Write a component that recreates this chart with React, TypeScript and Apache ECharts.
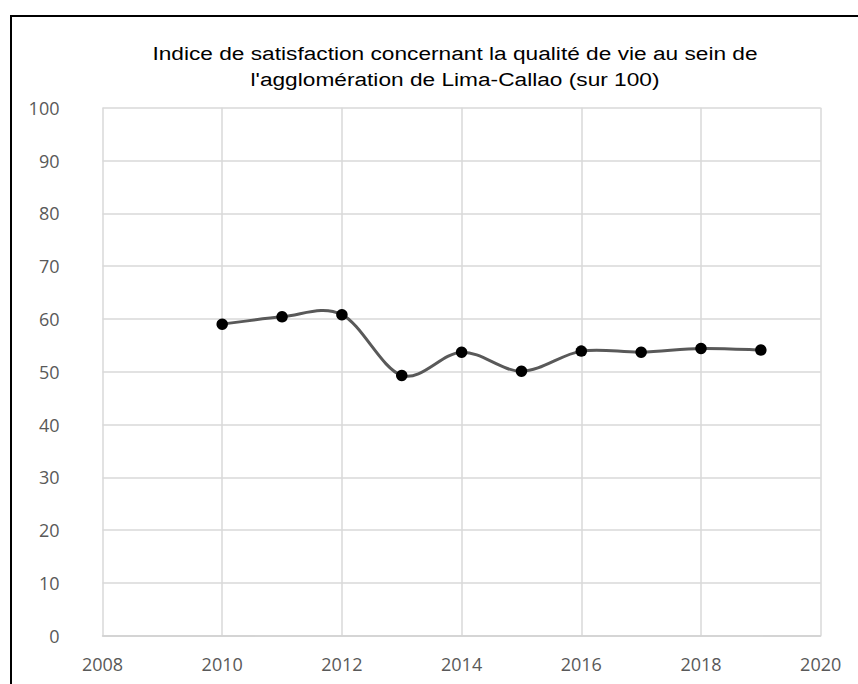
import React, { useEffect, useRef } from "react";
import * as echarts from "echarts";

const years = [2010, 2011, 2012, 2013, 2014, 2015, 2016, 2017, 2018, 2019];
const values = [59.0, 60.4, 60.8, 49.3, 53.7, 50.1, 53.9, 53.7, 54.4, 54.1];
const titleText =
  "Indice de satisfaction concernant la qualité de vie au sein de\nl'agglomération de Lima-Callao (sur 100)";

export default function App() {
  const ref = useRef<HTMLDivElement>(null);
  useEffect(() => {
    if (!ref.current) return;
    const chart = echarts.init(ref.current, null, { renderer: "svg" });
    const pts = years.map((y, i) => [y, values[i]]);
    chart.setOption({
      animation: false,
      backgroundColor: "#ffffff",
      graphic: [
        {
          type: "text",
          x: 455,
          y: 40,
          scaleX: 1.22,
          scaleY: 1,
          silent: true,
          style: {
            text: titleText,
            fontFamily: "Liberation Sans, Arial, sans-serif",
            fontSize: 18.6,
            fill: "#000000",
            textAlign: "center",
            textVerticalAlign: "top",
            lineHeight: 26.5,
          },
        },
        {
          type: "rect",
          shape: { x: 11, y: 16, width: 900, height: 700 },
          style: { fill: "none", stroke: "#000000", lineWidth: 2 },
          silent: true,
          z: 100,
        },
      ],
      grid: { left: 102.5, right: 37.3, top: 107.7, bottom: 48.3, containLabel: false },
      xAxis: {
        type: "value",
        min: 2008,
        max: 2020,
        interval: 2,
        axisLine: { show: true, lineStyle: { color: "#d0d0d0", width: 1.5 } },
        axisTick: { show: false },
        splitLine: { show: true, lineStyle: { color: "#d9d9d9", width: 1.5 } },
        axisLabel: {
          margin: 19,
          color: "#595959",
          fontFamily: "Open Sans, sans-serif",
          fontSize: 18,
          formatter: (v: number) => String(v),
        },
      },
      yAxis: {
        type: "value",
        min: 0,
        max: 100,
        interval: 10,
        axisLine: { show: false },
        axisTick: { show: false },
        splitLine: { show: true, lineStyle: { color: "#d9d9d9", width: 1.5 } },
        axisLabel: {
          margin: 43,
          color: "#595959",
          fontFamily: "Open Sans, sans-serif",
          fontSize: 18,
        },
      },
      series: [
        {
          type: "custom",
          data: pts,
          z: 2,
          renderItem: (params: any, api: any) => {
            const i = params.dataIndex;
            const n = pts.length;
            if (i >= n - 1) return null;
            const c = (k: number) => api.coord(pts[Math.max(0, Math.min(n - 1, k))]);
            const p0 = c(i - 1);
            const p1 = c(i);
            const p2 = c(i + 1);
            const p3 = c(i + 2);
            return {
              type: "bezierCurve",
              shape: {
                x1: p1[0],
                y1: p1[1],
                x2: p2[0],
                y2: p2[1],
                cpx1: p1[0] + (p2[0] - p0[0]) / 6,
                cpy1: p1[1] + (p2[1] - p0[1]) / 6,
                cpx2: p2[0] - (p3[0] - p1[0]) / 6,
                cpy2: p2[1] - (p3[1] - p1[1]) / 6,
              },
              style: { stroke: "#595959", lineWidth: 3, fill: "none" },
            };
          },
        },
        {
          type: "scatter",
          data: pts,
          symbol: "circle",
          symbolSize: 11.5,
          itemStyle: { color: "#000000", opacity: 1 },
          z: 3,
        },
      ],
    });
    return () => chart.dispose();
  }, []);
  return (
    <div
      ref={ref}
      style={{ position: "fixed", left: 0, top: 0, width: 858, height: 684 }}
    />
  );
}
